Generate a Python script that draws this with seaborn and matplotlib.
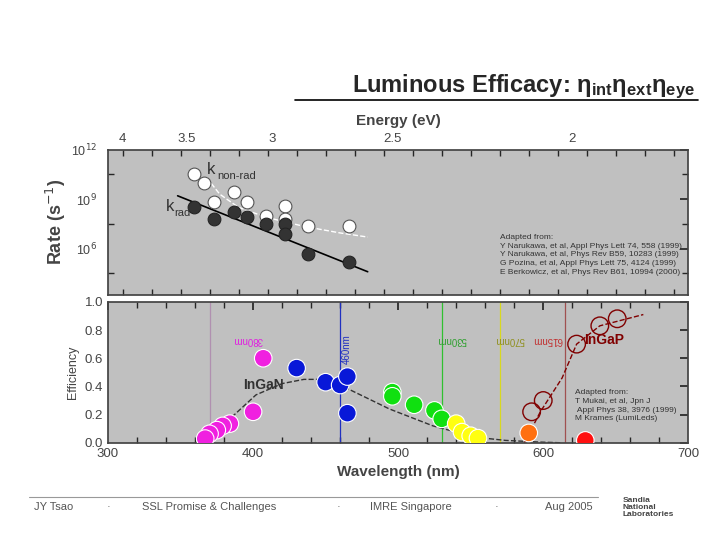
import numpy as np
import pandas as pd
import seaborn as sns
import matplotlib.pyplot as plt
from matplotlib.ticker import FixedLocator

sns.set_theme(style="white")
plt.rcParams['font.family'] = ['Liberation Sans', 'DejaVu Sans']

# top panel: rates vs wavelength (log10 of k in s^-1)
nonrad_wl = [359, 366, 373, 387, 396, 409, 422, 422, 438, 466]
nonrad_logk = [10.5, 10.0, 8.8, 9.4, 8.8, 8.0, 8.6, 7.8, 7.4, 7.4]
rad_wl = [359, 373, 387, 396, 409, 422, 422, 438, 466]
rad_logk = [8.5, 7.8, 8.2, 7.9, 7.5, 7.5, 6.9, 5.7, 5.2]
rad_fit_wl = [348, 479]
rad_fit_logk = [9.2, 4.6]
nonrad_fit_wl = [368, 377, 390, 409, 435, 460, 479]
nonrad_fit_logk = [10.3, 9.3, 8.5, 7.9, 7.35, 6.95, 6.7]

# bottom panel: efficiency vs wavelength
led_wl = [407, 400, 384, 379, 375, 370, 367,
          430, 450, 460, 465, 465,
          496, 496, 511, 525, 530,
          540, 544, 550, 555,
          590, 629]
led_eff = [0.60, 0.22, 0.136, 0.12, 0.09, 0.064, 0.03,
           0.53, 0.43, 0.41, 0.47, 0.21,
           0.36, 0.33, 0.27, 0.23, 0.17,
           0.136, 0.076, 0.05, 0.033,
           0.07, 0.017]
led_color = ['#f020e0'] * 7 + ['#0818d8'] * 5 + ['#10e010'] * 5 + ['#ffff10'] * 4 + ['#ff7010', '#ff1010']
ingap_wl = [592, 600, 623, 639, 651]
ingap_eff = [0.22, 0.30, 0.70, 0.83, 0.88]
ingan_curve_wl = [367, 384, 402, 420, 435, 447, 464, 494, 524, 553, 574, 598, 613]
ingan_curve_eff = [0.0, 0.17, 0.34, 0.42, 0.45, 0.45, 0.39, 0.24, 0.12, 0.04, 0.017, 0.005, 0.0]
ingap_curve_wl = [587, 598, 613, 623, 639, 669]
ingap_curve_eff = [0.0, 0.22, 0.46, 0.70, 0.83, 0.91]
vlines_wl = [370, 460, 530, 570, 615]
vlines_color = ['#b090b0', '#2030c0', '#30c030', '#d8d820', '#a05050']
energy_ticks = [4, 3.5, 3, 2.5, 2]

fig = plt.figure(figsize=(7.2, 5.4), dpi=100)
gray = '#c0c0c0'

# ---- top panel
ax1 = fig.add_axes([0.15, 0.454, 0.806, 0.269])
ax1.set_facecolor(gray)
sns.lineplot(x=rad_fit_wl, y=rad_fit_logk, color='black', lw=1.2, ax=ax1)
sns.lineplot(x=nonrad_fit_wl, y=nonrad_fit_logk, color='white', lw=1, ls='--', ax=ax1)
sns.scatterplot(x=nonrad_wl, y=nonrad_logk, color='white', edgecolor='#555555', s=85, linewidth=0.8, ax=ax1, zorder=3)
sns.scatterplot(x=rad_wl, y=rad_logk, color='#333333', edgecolor='#222222', s=85, ax=ax1, zorder=3)
ax1.set_xlim(300, 700)
ax1.set_ylim(3.2, 12)
ax1.set_yticks([6, 9, 12])
ax1.set_yticklabels(['10$^{6}$', '10$^{9}$', '10$^{12}$'], fontsize=9, color='#444444')
ax1.yaxis.set_minor_locator(FixedLocator([4.5, 7.5, 10.5]))
ax1.set_xticks([])
ax1.xaxis.set_minor_locator(FixedLocator(np.arange(310, 700, 20)))
ax1.tick_params(which='minor', direction='in', length=4, top=True, bottom=True, left=True, right=True)
ax1.tick_params(axis='y', which='major', direction='in', length=6, right=True, pad=8)
for s in ax1.spines.values():
    s.set_color('#444444')
ax1.text(368, 10.5, 'k', fontsize=12, color='#333333')
ax1.text(375, 10.2, 'non-rad', fontsize=8, color='#333333')
ax1.text(340, 8.3, 'k', fontsize=12, color='#333333')
ax1.text(346, 8.0, 'rad', fontsize=8, color='#333333')
ax1.text(570, 6.9, 'Adapted from:\nY Narukawa, et al, Appl Phys Lett 74, 558 (1999)\n'
         'Y Narukawa, et al, Phys Rev B59, 10283 (1999)\nG Pozina, et al, Appl Phys Lett 75, 4124 (1999)\n'
         'E Berkowicz, et al, Phys Rev B61, 10994 (2000)', fontsize=6, color='#333333',
         va='top', linespacing=1.35)
ax1.set_ylabel('Rate (s$^{-1}$)', fontsize=13, fontweight='bold', color='#444444', labelpad=2)
# energy axis on top
ax_e = ax1.secondary_xaxis('top', functions=(lambda w: 1240 / np.maximum(w, 1), lambda e: 1240 / np.maximum(e, 1e-3)))
ax_e.set_xticks(energy_ticks)
ax_e.set_xticklabels(['4', '3.5', '3', '2.5', '2'], fontsize=9.5, color='#444444')
ax_e.tick_params(length=0, pad=3)
ax_e.spines['top'].set_visible(False)
ax_e.set_xlabel('Energy (eV)', fontsize=11, fontweight='bold', color='#444444', labelpad=6)

# ---- bottom panel
ax2 = fig.add_axes([0.15, 0.18, 0.806, 0.261])
ax2.set_facecolor(gray)
for w, c in zip(vlines_wl, vlines_color):
    ax2.axvline(w, color=c, lw=0.9, zorder=1)
sns.lineplot(x=ingan_curve_wl, y=ingan_curve_eff, color='#333333', lw=1, ls='--', ax=ax2)
sns.lineplot(x=ingap_curve_wl, y=ingap_curve_eff, color='#800000', lw=1, ls='--', ax=ax2)
df = pd.DataFrame({'wl': led_wl, 'eff': led_eff, 'c': led_color})
sns.scatterplot(data=df, x='wl', y='eff', hue='c', palette={c: c for c in set(led_color)},
                edgecolor='white', linewidth=0.8, s=160, legend=False, ax=ax2, zorder=3)
sns.scatterplot(x=ingap_wl, y=ingap_eff, facecolor='none', edgecolor='#800000', s=160, linewidth=1, ax=ax2, zorder=3)
ax2.set_xlim(300, 700)
ax2.set_ylim(0, 1.0)
ax2.set_xticks([300, 400, 500, 600, 700])
ax2.set_yticks([0, 0.2, 0.4, 0.6, 0.8, 1.0])
ax2.set_yticklabels(['0.0', '0.2', '0.4', '0.6', '0.8', '1.0'])
ax2.xaxis.set_minor_locator(FixedLocator(np.arange(320, 700, 20)))
ax2.tick_params(labelsize=9.5, labelcolor='#444444')
ax2.tick_params(which='minor', direction='in', length=4, top=True, bottom=True)
ax2.tick_params(which='major', direction='in', length=6, top=True, right=True)
for s in ax2.spines.values():
    s.set_color('#444444')
ax2.set_xlabel('Wavelength (nm)', fontsize=11, fontweight='bold', color='#444444', labelpad=4)
ax2.set_ylabel('Efficiency', fontsize=9, color='#444444')
ax2.text(393, 0.38, 'InGaN', fontsize=10, fontweight='bold', color='#333333')
ax2.text(628, 0.70, 'InGaP', fontsize=10, fontweight='bold', color='#800000')
ax2.text(386, 0.71, '380nm', fontsize=7, color='#e020e0', rotation=180)
ax2.text(461, 0.57, '460nm', fontsize=7, color='#2030c0', rotation=90)
ax2.text(527, 0.71, '530nm', fontsize=7, color='#30a030', rotation=180)
ax2.text(567, 0.71, '570nm', fontsize=7, color='#909020', rotation=180)
ax2.text(613, 0.71, '615nm', fontsize=7, color='#c03030', rotation=180, ha='right')
ax2.text(622, 0.38, 'Adapted from:\nT Mukai, et al, Jpn J\n Appl Phys 38, 3976 (1999)\nM Krames (LumiLeds)',
         fontsize=6, color='#333333', va='top', linespacing=1.35)

# ---- slide decoration
fig.text(0.965, 0.83, r'Luminous Efficacy: $\mathregular{\eta_{int}\eta_{ext}\eta_{eye}}$',
         ha='right', fontsize=17, fontweight='bold')
fig.add_artist(plt.Line2D([0.41, 0.97], [0.815, 0.815], color='black', lw=1.2))
fig.add_artist(plt.Line2D([0.04, 0.83], [0.08, 0.08], color='#999999', lw=0.8))
for x, t in [(0.075, 'JY Tsao'), (0.15, '·'), (0.29, 'SSL Promise & Challenges'), (0.47, '·'),
             (0.57, 'IMRE Singapore'), (0.69, '·'), (0.79, 'Aug 2005')]:
    fig.text(x, 0.055, t, ha='center', fontsize=8, color='#555555')
fig.text(0.865, 0.06, 'Sandia\nNational\nLaboratories', fontsize=6, fontweight='bold',
         color='#444444', va='center', linespacing=1.0)

fig.savefig('out.png', dpi=100)
